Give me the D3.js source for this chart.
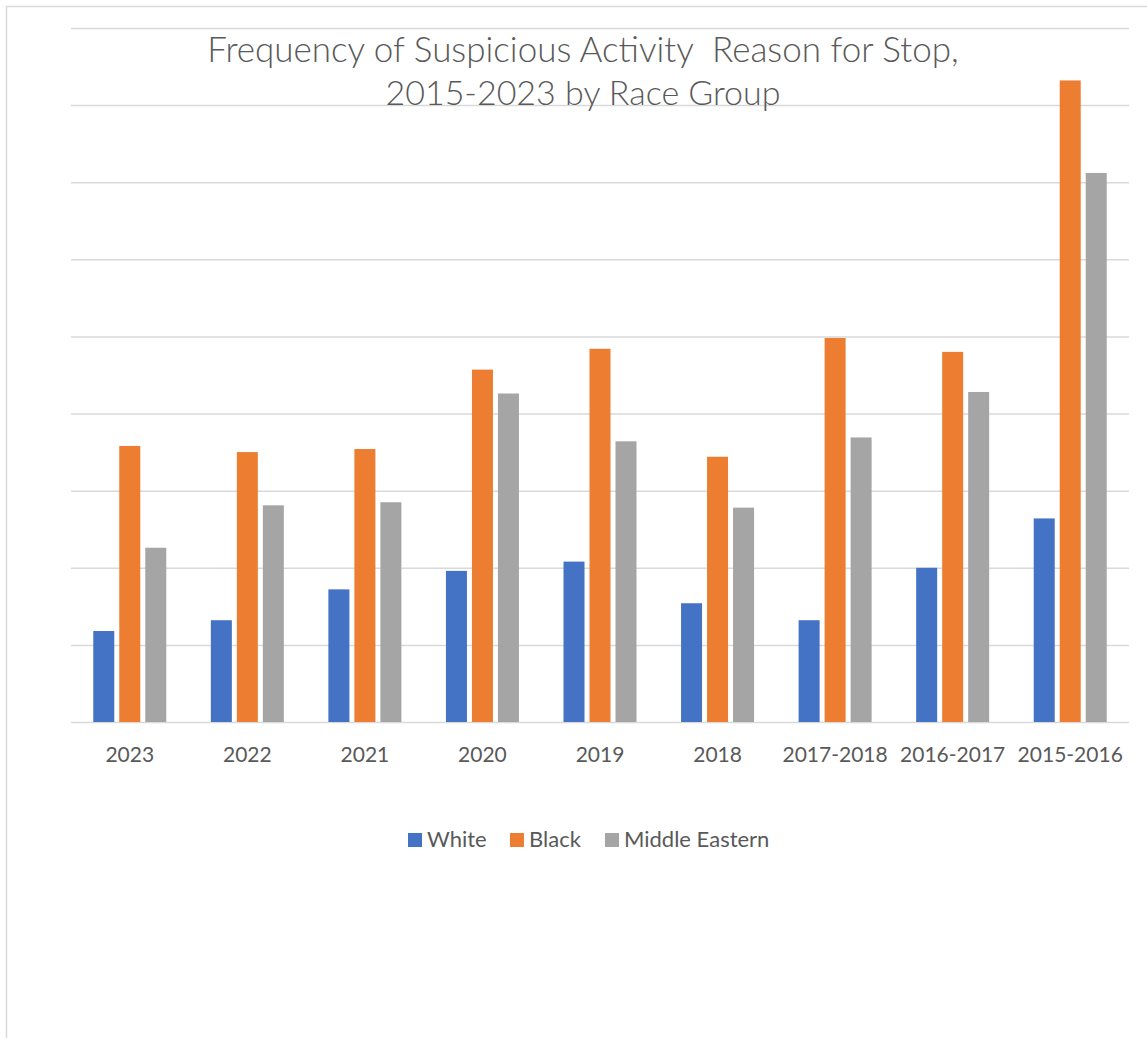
<!DOCTYPE html>
<html>
<head>
<meta charset="utf-8">
<script src="https://cdn.jsdelivr.net/npm/d3@7"></script>
<style>
  html, body { margin: 0; padding: 0; background: #fff; }
  svg { display: block; }
  text { font-family: Lato, "Open Sans", sans-serif; fill: #595959; }
</style>
</head>
<body>
<svg id="chart" width="1147" height="1038"></svg>
<script>
// Stops with "Suspicious Activity" as the stated reason, by period and race group
const periods = ["2023", "2022", "2021", "2020", "2019", "2018", "2017-2018", "2016-2017", "2015-2016"];
const seriesNames = ["White", "Black", "Middle Eastern"];
const white = [11.8, 13.2, 17.2, 19.6, 20.8, 15.4, 13.2, 20.0, 26.4];
const black = [35.8, 35.0, 35.4, 45.7, 48.4, 34.4, 49.8, 48.0, 83.2];
const middleEastern = [22.6, 28.1, 28.5, 42.6, 36.4, 27.8, 36.9, 42.8, 71.2];
const seriesColors = ["#4472C4", "#ED7D31", "#A5A5A5"];
const gridTicks = [0, 10, 20, 30, 40, 50, 60, 70, 80, 90];
const titleLines = ["Frequency of Suspicious Activity\u00A0 Reason for Stop,", "2015-2023 by Race Group"];

const seriesValues = [white, black, middleEastern];
const rows = periods.map((p, i) => ({
  period: p,
  values: seriesNames.map((s, k) => ({ series: s, value: seriesValues[k][i], color: seriesColors[k] }))
}));

const svg = d3.select("#chart");

// chart area frame
svg.append("rect")
  .attr("x", 6.5).attr("y", 6.5)
  .attr("width", 1160).attr("height", 1060)
  .attr("fill", "#fff")
  .attr("stroke", "#d9d9d9").attr("stroke-width", 1.5);

const plot = { left: 71, right: 1129, top: 28, bottom: 722 };

const x = d3.scaleBand().domain(periods).range([plot.left, plot.right]).padding(0);
const groupWidth = 73;
const xs = d3.scaleBand().domain(seriesNames)
  .range([0, groupWidth]).paddingInner(5 / 26).paddingOuter(0);
const y = d3.scaleLinear().domain([0, 90]).range([plot.bottom, plot.top]);

// horizontal gridlines
svg.append("g")
  .attr("transform", `translate(${plot.left},0)`)
  .call(d3.axisLeft(y).tickValues(gridTicks).tickSize(-(plot.right - plot.left)).tickFormat(""))
  .call(g => g.select(".domain").remove())
  .call(g => g.selectAll(".tick line").attr("stroke", "#d9d9d9").attr("stroke-width", 1.5));

// bars
const groups = svg.append("g").selectAll("g")
  .data(rows).join("g")
  .attr("transform", d => `translate(${x(d.period) + (x.bandwidth() - groupWidth) / 2},0)`);

groups.selectAll("rect")
  .data(d => d.values).join("rect")
  .attr("x", d => xs(d.series))
  .attr("width", xs.bandwidth())
  .attr("y", d => y(d.value))
  .attr("height", d => y(0) - y(d.value))
  .attr("fill", d => d.color);

// category axis labels
svg.append("g")
  .attr("transform", `translate(0,${plot.bottom})`)
  .call(d3.axisBottom(x).tickSize(0).tickPadding(0))
  .call(g => g.select(".domain").remove())
  .call(g => g.selectAll("text")
    .attr("dy", null).attr("y", 40)
    .style("font-size", "21px")
    .style("font-family", "Lato, sans-serif")
    .attr("fill", "#595959"));

// title
const title = svg.append("text")
  .attr("text-anchor", "middle")
  .style("font-size", "35px")
  .style("font-weight", 300);
title.selectAll("tspan").data(titleLines).join("tspan")
  .attr("x", 583)
  .attr("y", (d, i) => 62 + i * 43)
  .style("font-size", (d, i) => i === 0 ? "35px" : "34px")
  .text(d => d);

// legend
const legendItems = [
  { name: seriesNames[0], color: seriesColors[0], x: 408 },
  { name: seriesNames[1], color: seriesColors[1], x: 510 },
  { name: seriesNames[2], color: seriesColors[2], x: 605 }
];
const legend = svg.append("g").selectAll("g").data(legendItems).join("g")
  .attr("transform", d => `translate(${d.x},833)`);
legend.append("rect").attr("width", 14).attr("height", 14).attr("fill", d => d.color);
legend.append("text")
  .attr("x", 19).attr("y", 13.5)
  .style("font-size", "22px")
  .text(d => d.name);
</script>
</body>
</html>
